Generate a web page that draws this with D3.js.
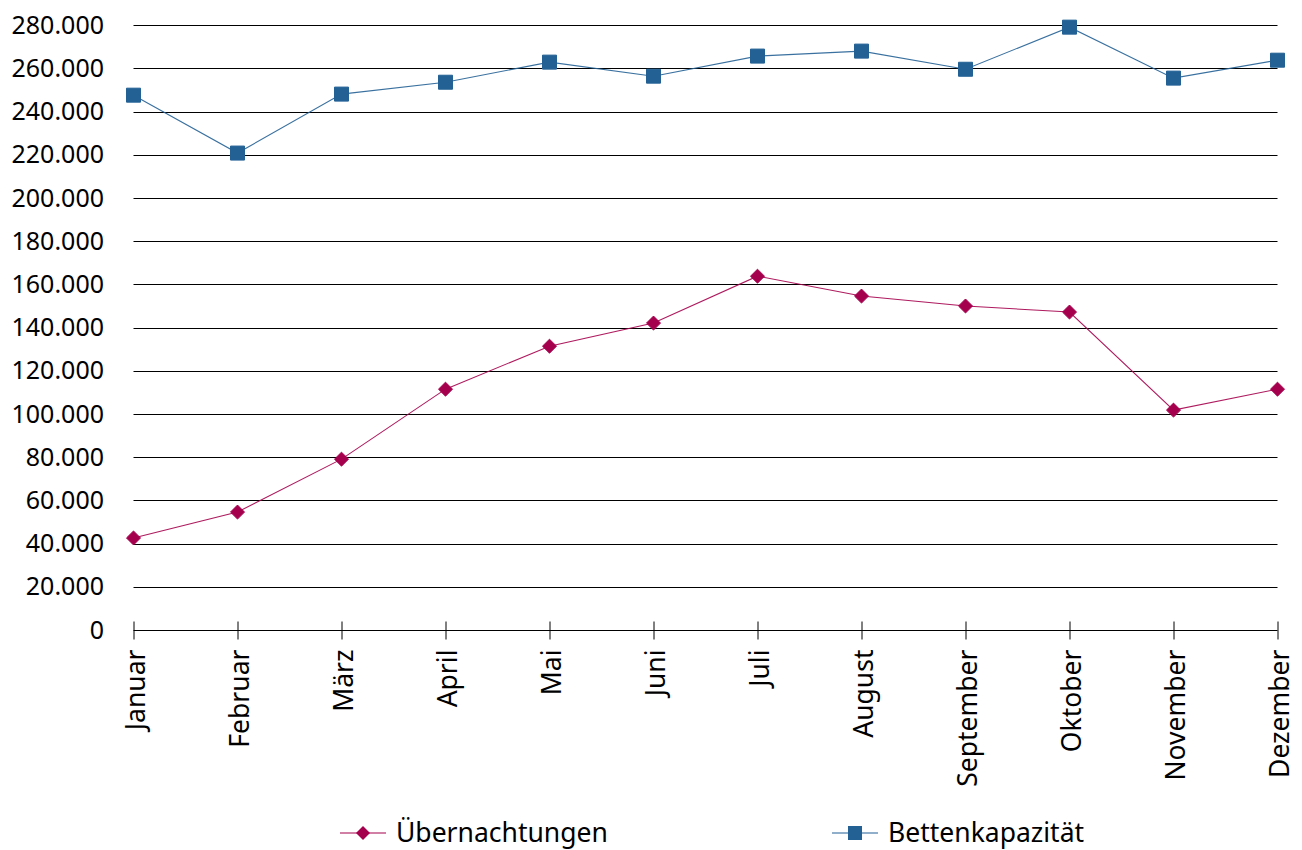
<!DOCTYPE html>
<html>
<head>
<meta charset="utf-8">
<script src="https://cdn.jsdelivr.net/npm/d3@7/dist/d3.min.js"></script>
<style>
  body { margin: 0; background: #fff; }
  svg { display: block; font-family: "Noto Sans", "Open Sans", sans-serif; }
</style>
</head>
<body>
<svg id="chart" width="1302" height="850"></svg>
<script>
// data
const months = ["Januar", "Februar", "März", "April", "Mai", "Juni", "Juli",
  "August", "September", "Oktober", "November", "Dezember"];
const uebernachtungen = [42600, 54600, 79100, 111500, 131400, 142100, 163800,
  154600, 150000, 147200, 101800, 111500];
const bettenkapazitaet = [247600, 220800, 248100, 253600, 262900, 256400, 265700,
  268000, 259600, 279100, 255500, 263800];
const yTicks = d3.range(0, 280001, 20000);

const PINK = "#a5004d";
const BLUE = "#236195";

const svg = d3.select("#chart");
const x = d3.scalePoint().domain(months).range([133.5, 1277.5]);
const y = d3.scaleLinear().domain([0, 280000]).range([630, 25.2]);
const fmt = (v) => d3.format(",")(v).replace(/,/g, ".");

// horizontal gridlines
svg.append("g")
  .selectAll("line")
  .data(yTicks.filter((t) => t > 0))
  .join("line")
  .attr("x1", 133.5)
  .attr("x2", 1277.5)
  .attr("y1", (d) => Math.round(y(d)) + 0.5)
  .attr("y2", (d) => Math.round(y(d)) + 0.5)
  .attr("stroke", "#000")
  .attr("stroke-width", 1);

// y axis labels
const yAxis = svg.append("g")
  .attr("transform", "translate(104,0)")
  .call(d3.axisLeft(y).tickValues(yTicks).tickSize(0).tickPadding(0).tickFormat(fmt));
yAxis.select(".domain").remove();
yAxis.selectAll("text")
  .attr("font-size", 25)
  .attr("font-family", "Noto Sans, sans-serif")
  .attr("fill", "#000");

// x axis
const xAxis = svg.append("g")
  .attr("transform", "translate(0,630.5)")
  .call(d3.axisBottom(x).tickSizeInner(9).tickSizeOuter(0).tickPadding(0));
xAxis.select(".domain").attr("stroke", "#000").attr("d", "M133.5,0H1277.5");
xAxis.selectAll(".tick line")
  .attr("stroke", "#000")
  .attr("y1", -9)
  .attr("y2", 9);
xAxis.selectAll("text")
  .attr("font-size", 26.5)
  .attr("font-family", "Noto Sans, sans-serif")
  .attr("fill", "#000")
  .attr("transform", "rotate(-90)")
  .attr("text-anchor", "end")
  .attr("x", -19)
  .attr("y", 2)
  .attr("dy", "0.35em");

// series
const series = [
  { name: "Übernachtungen", values: uebernachtungen, color: PINK, symbol: d3.symbolDiamond2, size: 125 },
  { name: "Bettenkapazität", values: bettenkapazitaet, color: BLUE, symbol: d3.symbolSquare, size: 196 },
];

const line = d3.line().x((d, i) => x(months[i])).y((d) => y(d));

series.forEach((s) => {
  svg.append("path")
    .datum(s.values)
    .attr("fill", "none")
    .attr("stroke", s.color)
    .attr("stroke-opacity", 0.9)
    .attr("stroke-width", 1.1)
    .attr("d", line);

  svg.append("g")
    .selectAll("path")
    .data(s.values)
    .join("path")
    .attr("transform", (d, i) => `translate(${x(months[i])},${y(d)})`)
    .attr("d", d3.symbol().type(s.symbol).size(s.size))
    .attr("fill", s.color)
    .attr("stroke", s.color)
    .attr("stroke-width", 1);
});

// legend
const legendX = [340, 832];
const legend = svg.append("g")
  .selectAll("g")
  .data(series)
  .join("g")
  .attr("transform", (d, i) => `translate(${legendX[i]},833)`);
legend.append("line")
  .attr("x1", 0).attr("x2", 46)
  .attr("stroke", (d) => d.color)
  .attr("stroke-width", 1.1);
legend.append("path")
  .attr("transform", "translate(23,0)")
  .attr("d", (d) => d3.symbol().type(d.symbol).size(d.size)())
  .attr("fill", (d) => d.color);
legend.append("text")
  .attr("x", 56)
  .attr("dy", "0.35em")
  .attr("font-size", 26.5)
  .attr("fill", "#000")
  .text((d) => d.name);
</script>
</body>
</html>
